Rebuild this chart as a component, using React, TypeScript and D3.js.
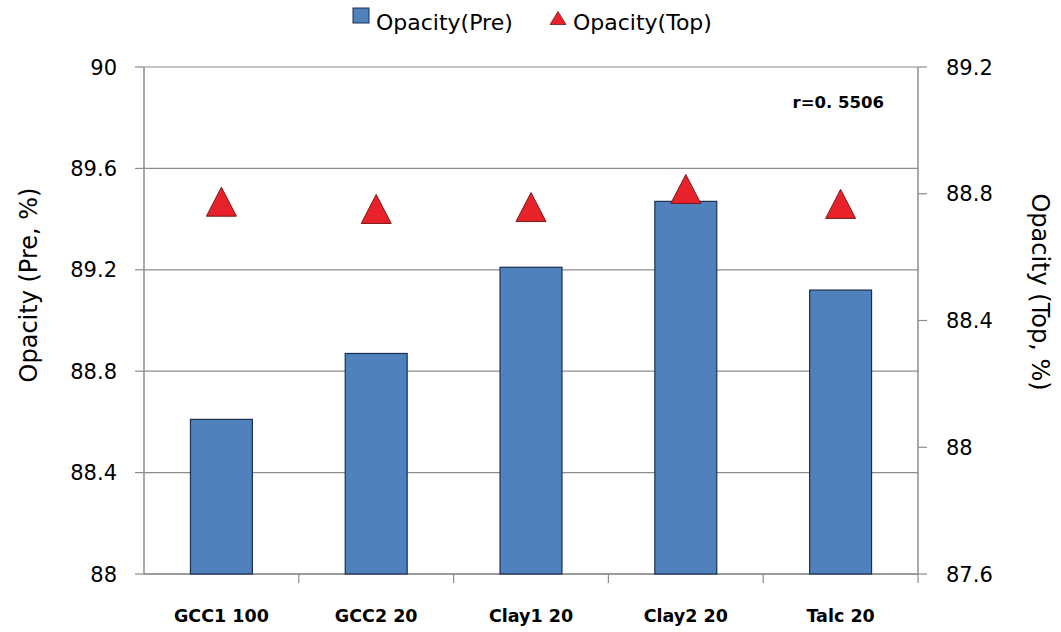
import React from "react";
import * as d3 from "d3";

const categories = ["GCC1 100", "GCC2 20", "Clay1 20", "Clay2 20", "Talc 20"];
const opacityPre = [88.61, 88.87, 89.21, 89.47, 89.12];
const opacityTop = [88.775, 88.752, 88.758, 88.815, 88.768];
const leftTicks = [88, 88.4, 88.8, 89.2, 89.6, 90];
const rightTicks = [87.6, 88, 88.4, 88.8, 89.2];

const width = 1061;
const height = 632;
const margin = { top: 67, right: 143, bottom: 58, left: 144 };
const boundedWidth = width - margin.left - margin.right;
const boundedHeight = height - margin.top - margin.bottom;

const xScale = d3.scaleBand<string>().domain(categories).range([0, boundedWidth]);
const yLeft = d3.scaleLinear().domain([88, 90]).range([boundedHeight, 0]);
const yRight = d3.scaleLinear().domain([87.6, 89.2]).range([boundedHeight, 0]);

// triangle marker, centred on its bounding box
const tri = (w: number, h: number) => `M0,${-h / 2}L${w / 2},${h / 2}L${-w / 2},${h / 2}Z`;

const font = "'DejaVu Sans', 'Noto Sans', sans-serif";
const gridColor = "#8c8c8c";
const barFill = "#4F81BD";
const barStroke = "#1c2f52";
const triFill = "#e8212a";
const triStroke = "#7a1a1a";

export default function App() {
  const barWidth = xScale.bandwidth() * 0.4;
  const cx = (c: string) => (xScale(c) ?? 0) + xScale.bandwidth() / 2;
  return (
    <div style={{ position: "absolute", left: 0, top: 0 }}>
      <svg width={width} height={height} style={{ display: "block", background: "#fff" }}>
        {/* legend */}
        <g fontFamily={font} fontSize={22}>
          <rect x={353} y={8} width={16} height={15} fill={barFill} stroke={barStroke} strokeWidth={1} />
          <text x={376} y={30}>Opacity(Pre)</text>
          <path d={tri(16, 13)} transform="translate(558,18)" fill={triFill} stroke={triStroke} strokeWidth={0.8} />
          <text x={573} y={30}>Opacity(Top)</text>
        </g>

        <g transform={`translate(${margin.left},${margin.top})`}>
          {/* gridlines */}
          {leftTicks.map((t) => (
            <line key={t} x1={0} x2={boundedWidth} y1={yLeft(t)} y2={yLeft(t)} stroke={gridColor} strokeWidth={1.2} />
          ))}
          {/* axes */}
          <line x1={0} x2={0} y1={0} y2={boundedHeight} stroke={gridColor} strokeWidth={1.5} />
          <line x1={boundedWidth} x2={boundedWidth} y1={0} y2={boundedHeight} stroke={gridColor} strokeWidth={1.5} />
          <line x1={0} x2={boundedWidth} y1={boundedHeight} y2={boundedHeight} stroke={gridColor} strokeWidth={1.5} />
          {leftTicks.map((t) => (
            <g key={"l" + t}>
              <line x1={-9} x2={0} y1={yLeft(t)} y2={yLeft(t)} stroke={gridColor} strokeWidth={1.2} />
              <text x={-27} y={yLeft(t)} dy="0.36em" textAnchor="end" fontFamily={font} fontSize={21}>{t}</text>
            </g>
          ))}
          {rightTicks.map((t) => (
            <g key={"r" + t}>
              <line x1={boundedWidth} x2={boundedWidth + 9} y1={yRight(t)} y2={yRight(t)} stroke={gridColor} strokeWidth={1.2} />
              <text x={boundedWidth + 28} y={yRight(t)} dy="0.36em" textAnchor="start" fontFamily={font} fontSize={21}>{t}</text>
            </g>
          ))}
          {categories.map((c) => (
            <line key={"x" + c} x1={(xScale(c) ?? 0) + xScale.bandwidth()} x2={(xScale(c) ?? 0) + xScale.bandwidth()} y1={boundedHeight} y2={boundedHeight + 9} stroke={gridColor} strokeWidth={1.2} />
          ))}

          {/* bars */}
          {categories.map((c, i) => (
            <rect
              key={"b" + c}
              x={cx(c) - barWidth / 2}
              y={yLeft(opacityPre[i])}
              width={barWidth}
              height={boundedHeight - yLeft(opacityPre[i])}
              fill={barFill}
              stroke={barStroke}
              strokeWidth={1.2}
            />
          ))}

          {/* triangles */}
          {categories.map((c, i) => (
            <path
              key={"t" + c}
              d={tri(30, 29)}
              transform={`translate(${cx(c)},${yRight(opacityTop[i])})`}
              fill={triFill}
              stroke={triStroke}
              strokeWidth={1}
            />
          ))}

          {/* x labels */}
          {categories.map((c) => (
            <text
              key={"xl" + c}
              x={cx(c)}
              y={boundedHeight + 48}
              textAnchor="middle"
              fontFamily={font}
              fontWeight="bold"
              fontSize={17.5}
            >
              {c}
            </text>
          ))}

          <text x={boundedWidth - 34} y={41} textAnchor="end" fontFamily={font} fontWeight="bold" fontSize={16.5}>r=0. 5506</text>
        </g>

        {/* axis titles */}
        <text transform="translate(37,285) rotate(-90)" textAnchor="middle" fontFamily={font} fontSize={24}>Opacity (Pre, %)</text>
        <text transform="translate(1032,292) rotate(90)" textAnchor="middle" fontFamily={font} fontSize={24}>Opacity (Top, %)</text>
      </svg>
    </div>
  );
}
